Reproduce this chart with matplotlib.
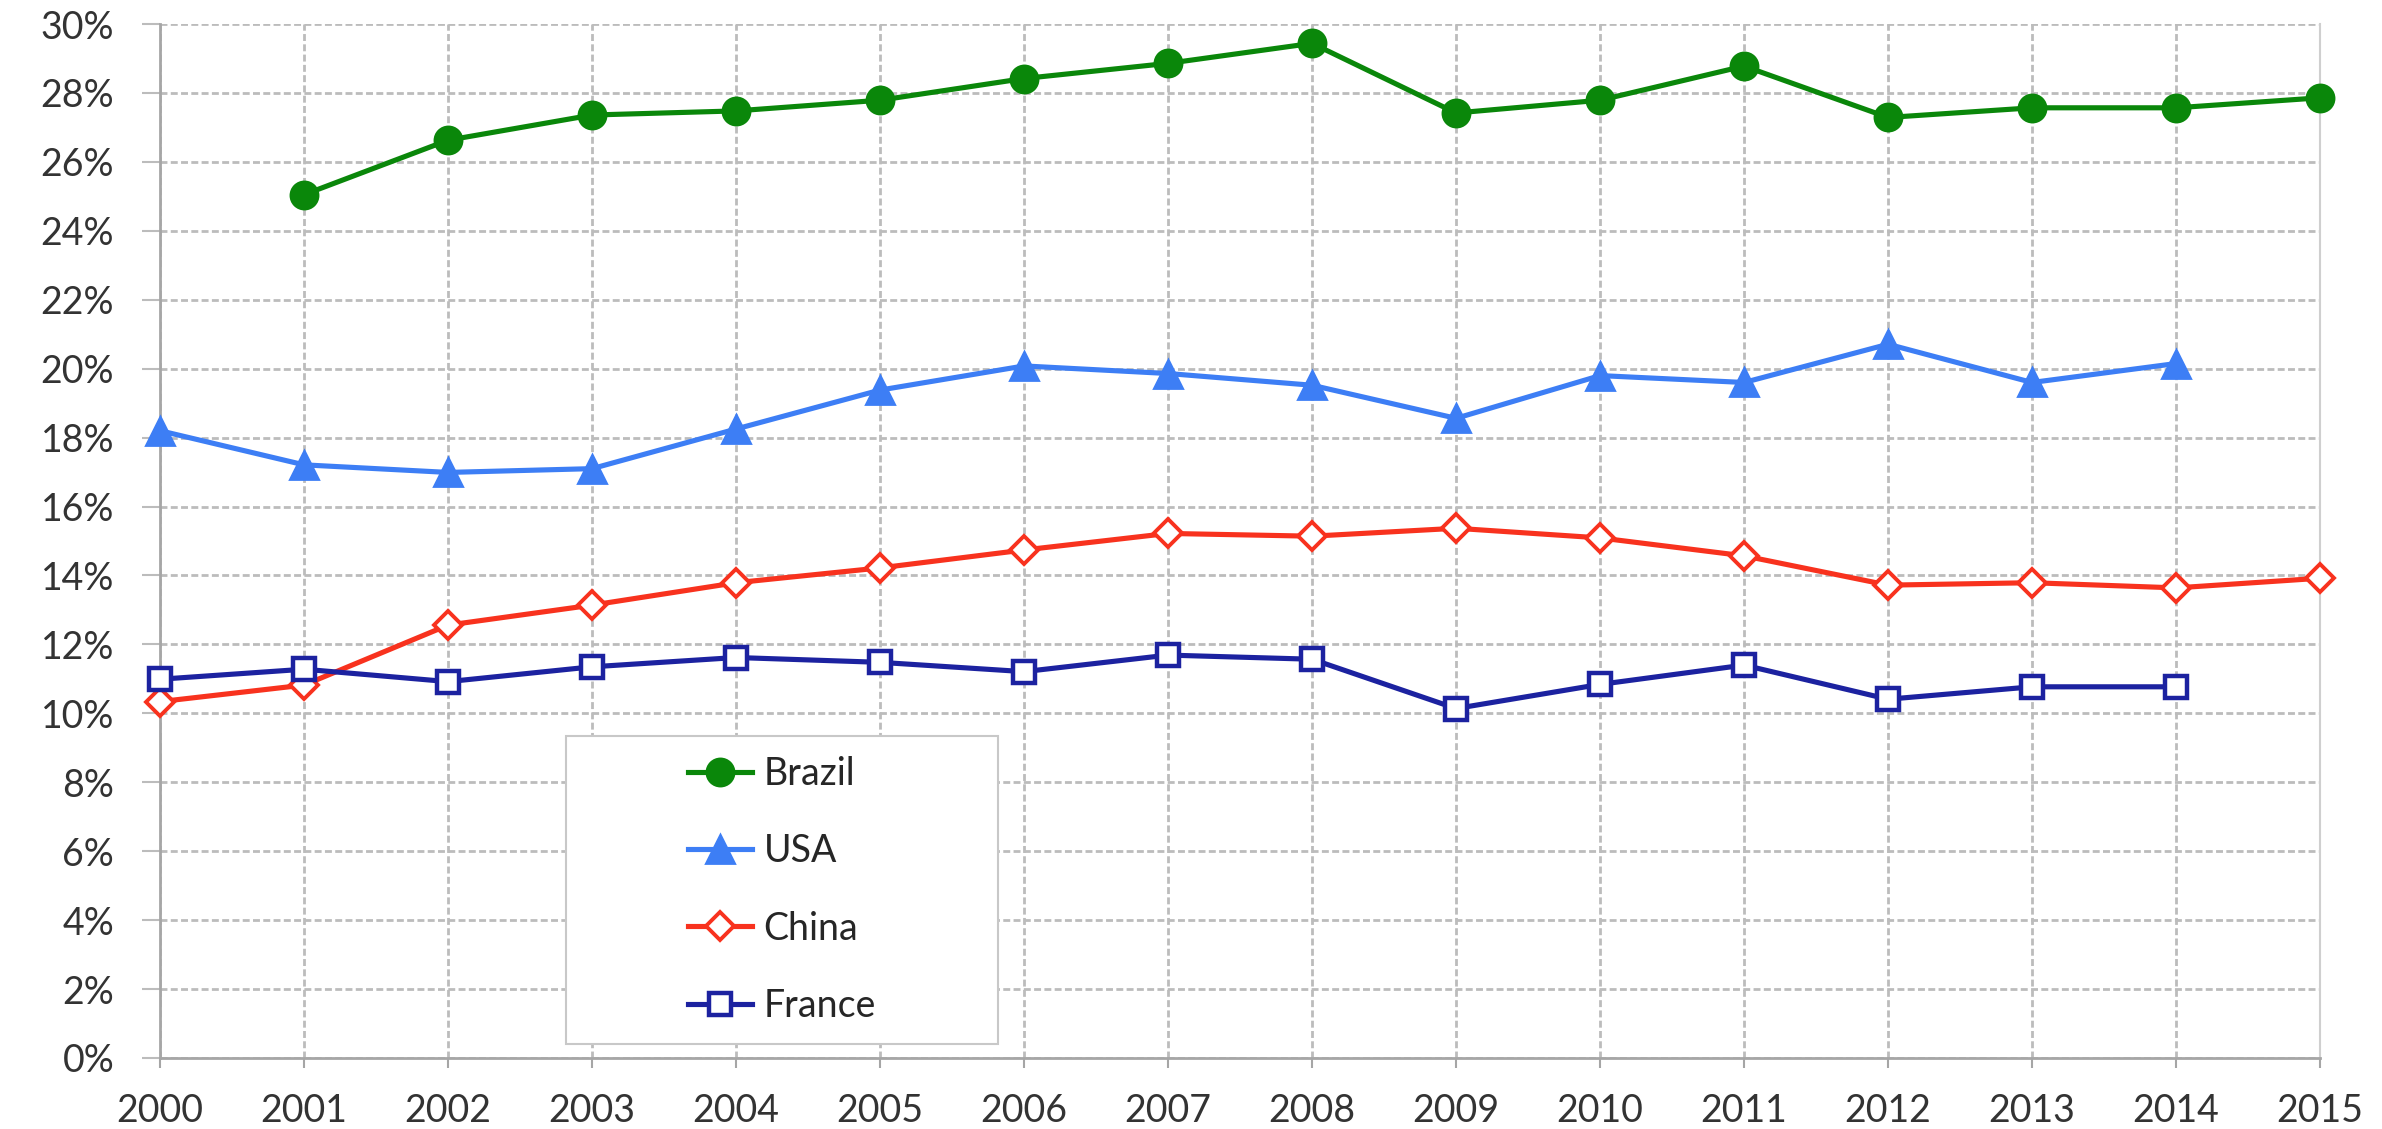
import matplotlib
matplotlib.use("Agg")
import matplotlib.pyplot as plt
import numpy as np
from matplotlib.ticker import PercentFormatter, MultipleLocator
from matplotlib.patches import Rectangle

plt.rcParams['font.family'] = ['Lato', 'DejaVu Sans']

# Share per year (%)
years = list(range(2000, 2016))
brazil = [np.nan, 25.05, 26.63, 27.36, 27.48, 27.79, 28.42, 28.86, 29.44, 27.42,
          27.79, 28.78, 27.29, 27.57, 27.57, 27.86]
usa = [18.20, 17.21, 16.99, 17.10, 18.25, 19.38, 20.08, 19.86, 19.52, 18.56,
       19.80, 19.60, 20.71, 19.60, 20.15, np.nan]
china = [10.34, 10.82, 12.56, 13.14, 13.79, 14.22, 14.74, 15.22, 15.14, 15.37,
         15.09, 14.57, 13.72, 13.79, 13.64, 13.92]
france = [10.99, 11.28, 10.92, 11.35, 11.62, 11.48, 11.21, 11.69, 11.57, 10.14,
          10.84, 11.40, 10.41, 10.77, 10.77, np.nan]

fig = plt.figure(figsize=(23.82, 11.29), dpi=100)
ax = fig.add_axes([0.0672, 0.0629, 0.9068, 0.9158])

# nome, valores, cor, marcador, tamanho, preenchimento, borda
estilos = [
    ('Brazil', brazil, '#0a870a', 'o', 19.5, '#0a870a', 2),
    ('USA', usa, '#3d7ef5', '^', 20.5, '#3d7ef5', 2),
    ('China', china, '#f8321e', 'D', 14.5, 'white', 2.8),
    ('France', france, '#1c22a0', 's', 16.5, 'white', 3.2),
]
for nome, vals, cor, mk, ms, face, mew in estilos:
    ax.plot(years, vals, color=cor, lw=3.7, marker=mk, ms=ms, mfc=face,
            mec=cor, mew=mew, label=nome, clip_on=False, zorder=3)

ax.set_xlim(2000, 2015)
ax.set_ylim(0, 30)
ax.set_xticks(years)
ax.yaxis.set_major_locator(MultipleLocator(2))
ax.yaxis.set_major_formatter(PercentFormatter(decimals=0))

ax.set_axisbelow(True)
ax.grid(True, color='#bcbcbc', lw=2, linestyle=(0, (2.5, 1.2)))

ax.spines['top'].set_visible(False)
ax.spines['right'].set_color('#cfcfcf')
ax.spines['right'].set_linewidth(1.5)
for lado in ('left', 'bottom'):
    ax.spines[lado].set_color('#a6a6a6')
    ax.spines[lado].set_linewidth(2)

ax.tick_params(axis='x', length=7, width=1.5, color='#a6a6a6', pad=18,
               labelsize=27, labelcolor='#333333')
ax.tick_params(axis='y', length=13, width=1.5, color='#bcbcbc', pad=20,
               labelsize=27, labelcolor='#333333')

# caixa da legenda
ax.add_patch(Rectangle((0.188, 0.0135), 0.2, 0.2975, transform=ax.transAxes,
                       facecolor='white', edgecolor='#c8c8c8', lw=1.5, zorder=2))
ax.legend(loc='center', bbox_to_anchor=(0.288, 0.1625), frameon=False,
          fontsize=27, labelspacing=1.1, handlelength=1.7, handletextpad=0.3,
          labelcolor='#262626')

fig.savefig('out.png', dpi=100)
